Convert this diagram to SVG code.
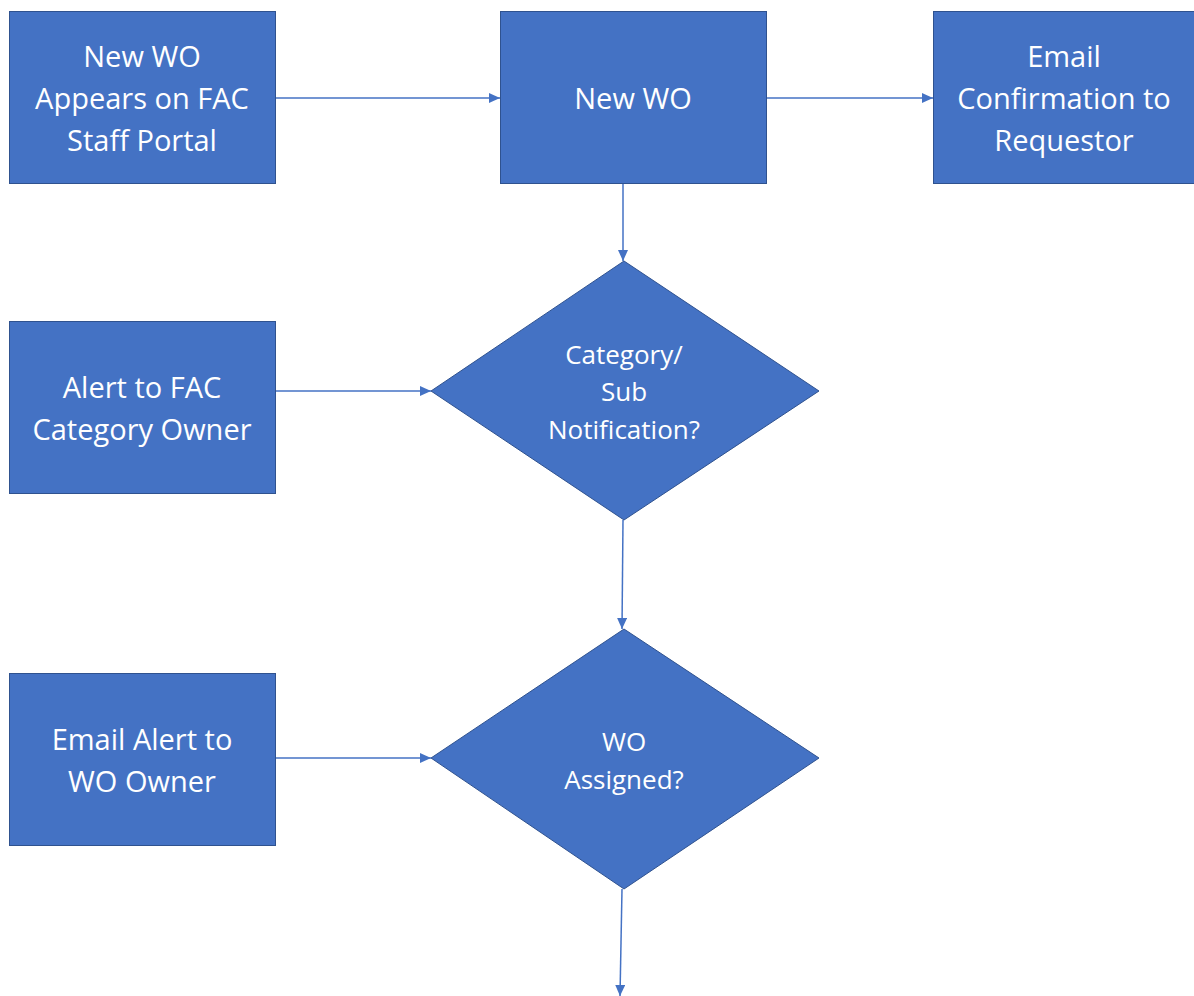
<svg xmlns="http://www.w3.org/2000/svg" width="1194" height="996" viewBox="0 0 1194 996">
<style>
.n{fill:#4472C4;stroke:#2F528F;stroke-width:1}
.t{fill:#fff;font-family:"Open Sans","Liberation Sans",sans-serif;font-size:29px;text-anchor:middle}
.d{fill:#fff;font-family:"Open Sans","Liberation Sans",sans-serif;font-size:26px;text-anchor:middle}
.c{stroke:#4472C4;stroke-width:1.5;fill:none;marker-end:url(#ah)}
</style>
<defs>
<marker id="ah" markerWidth="11" markerHeight="10" refX="11" refY="5" orient="auto" markerUnits="userSpaceOnUse">
<path d="M0,0 L11,5 L0,10 Z" fill="#4472C4"/>
</marker>
</defs>
<rect width="1194" height="996" fill="#fff"/>
<g id="connectors">
<line class="c" x1="276" y1="98" x2="500" y2="98"/>
<line class="c" x1="767" y1="98" x2="933" y2="98"/>
<line class="c" x1="623" y1="184" x2="623" y2="261"/>
<line class="c" x1="276" y1="391" x2="431" y2="391"/>
<line class="c" x1="623" y1="520" x2="622" y2="629"/>
<line class="c" x1="276" y1="758" x2="431" y2="758"/>
<line class="c" x1="622" y1="889" x2="620" y2="996"/>
</g>
<g id="node-new-wo-appears">
<rect class="n" x="9.5" y="11.5" width="266" height="172"/>
<text class="t" x="142" y="67">New WO</text>
<text class="t" x="142" y="109">Appears on FAC</text>
<text class="t" x="142" y="151">Staff Portal</text>
</g>
<g id="node-new-wo">
<rect class="n" x="500.5" y="11.5" width="266" height="172"/>
<text class="t" x="633" y="109">New WO</text>
</g>
<g id="node-email-confirmation">
<rect class="n" x="933.5" y="11.5" width="300" height="172"/>
<text class="t" x="1064" y="67">Email</text>
<text class="t" x="1064" y="109">Confirmation to</text>
<text class="t" x="1064" y="151">Requestor</text>
</g>
<g id="node-alert-category-owner">
<rect class="n" x="9.5" y="321.5" width="266" height="172"/>
<text class="t" x="142" y="398">Alert to FAC</text>
<text class="t" x="142" y="440">Category Owner</text>
</g>
<g id="node-category-sub">
<polygon class="n" points="624,261 819,391 624,520 431,391"/>
<text class="d" x="624" y="364">Category/</text>
<text class="d" x="624" y="401">Sub</text>
<text class="d" x="624" y="439">Notification?</text>
</g>
<g id="node-email-alert-wo-owner">
<rect class="n" x="9.5" y="673.5" width="266" height="172"/>
<text class="t" x="142" y="750">Email Alert to</text>
<text class="t" x="142" y="792">WO Owner</text>
</g>
<g id="node-wo-assigned">
<polygon class="n" points="624,629 819,758 624,889 431,758"/>
<text class="d" x="624" y="751">WO</text>
<text class="d" x="624" y="789">Assigned?</text>
</g>
</svg>
